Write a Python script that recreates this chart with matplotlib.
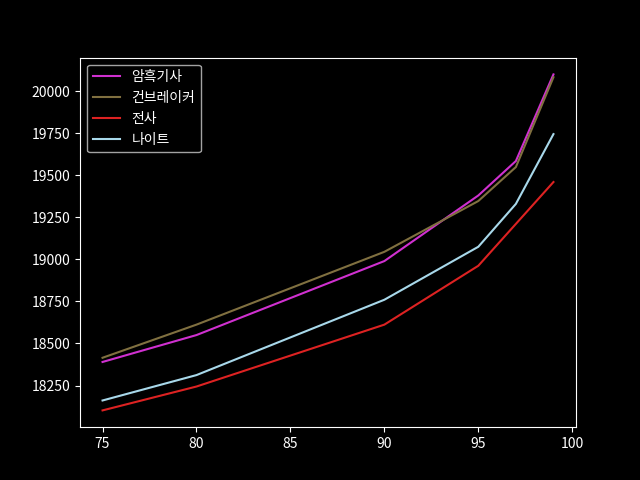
import matplotlib
matplotlib.use("Agg")
import matplotlib.pyplot as plt

plt.style.use("dark_background")
plt.rcParams['font.family'] = ['Noto Sans CJK KR', 'DejaVu Sans']

levels = [75, 80, 90, 95, 97, 99]
dark_knight = [18390, 18550, 18990, 19380, 19585, 20100]
gunbreaker = [18415, 18612, 19045, 19347, 19549, 20083]
warrior = [18102, 18244, 18612, 18962, 19211, 19460]
paladin = [18161, 18312, 18760, 19075, 19330, 19745]

names = ['암흑기사', '건브레이커', '전사', '나이트']
colors = ['#d030d0', '#807040', '#dd2222', '#a8d8ea']

fig, ax = plt.subplots(figsize=(6.4, 4.8), dpi=100)
for name, vals, c in zip(names, [dark_knight, gunbreaker, warrior, paladin], colors):
    ax.plot(levels, vals, color=c, label=name)
ax.legend(loc='upper left')
fig.savefig('out.png')
